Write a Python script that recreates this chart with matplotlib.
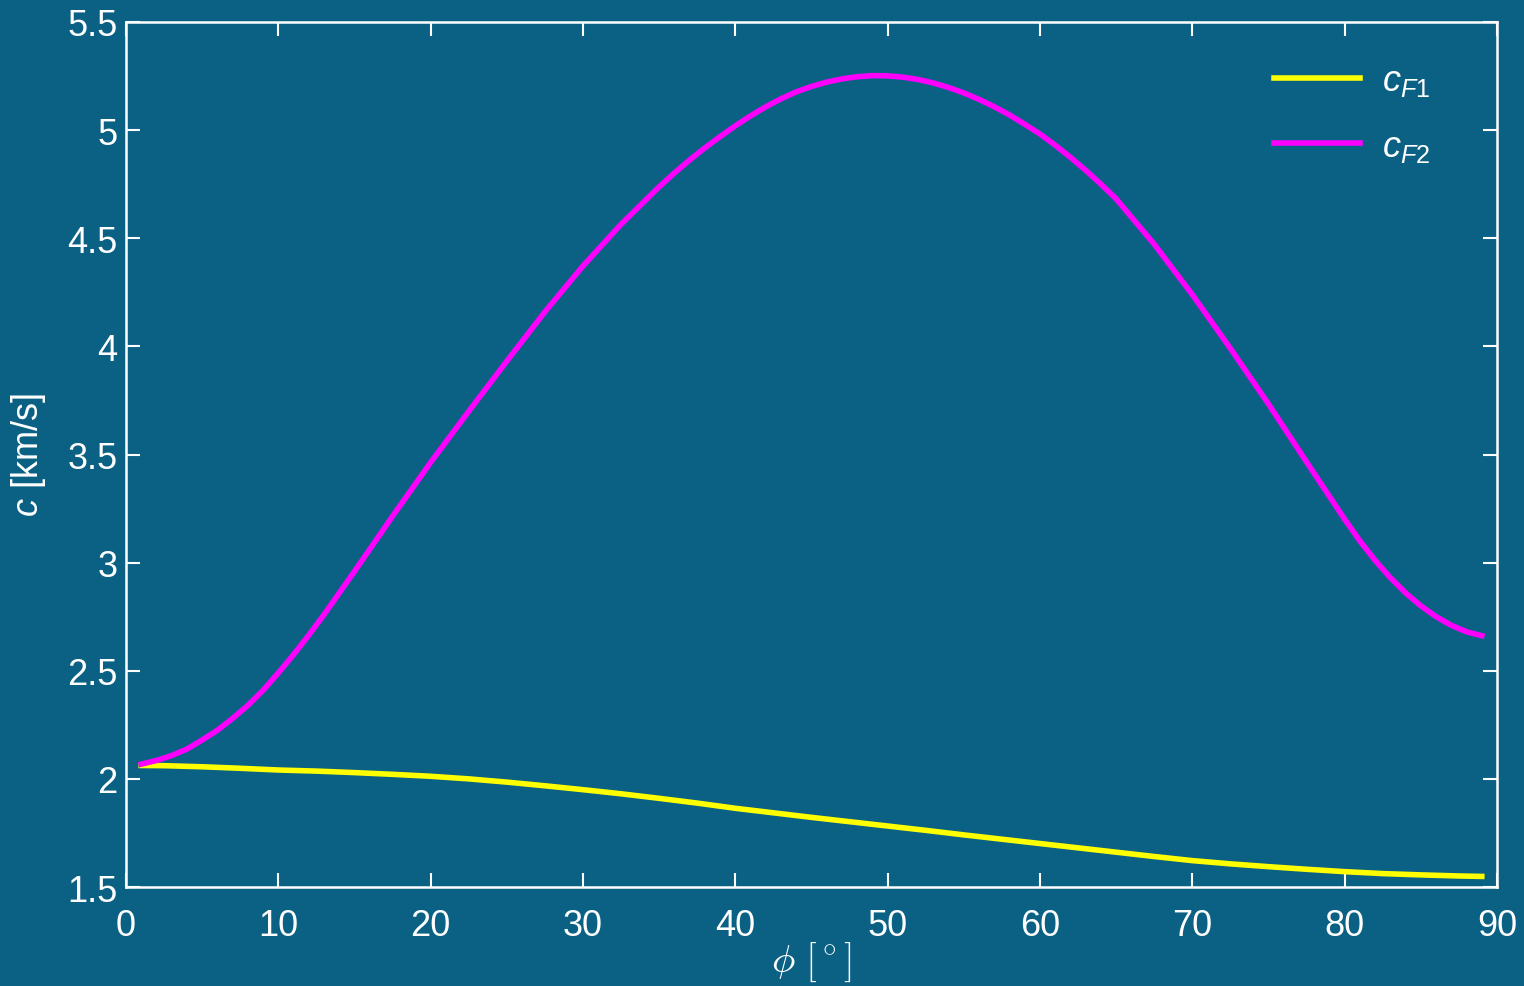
import matplotlib
matplotlib.use("Agg")
import matplotlib.pyplot as plt

# angle phi in degrees
phi_f1 = [1, 2.5, 5, 7.5, 10, 12.5, 15, 17.5, 20, 22.5, 25, 27.5, 30, 32.5, 35, 37.5,
          40, 42.5, 45, 47.5, 50, 52.5, 55, 57.5, 60, 62.5, 65, 67.5, 70, 72.5, 75,
          77.5, 80, 82.5, 85, 87.5, 89]
c_f1 = [2.062, 2.061, 2.056, 2.049, 2.041, 2.036, 2.029, 2.021, 2.012, 2.000, 1.985,
        1.968, 1.950, 1.931, 1.910, 1.888, 1.864, 1.843, 1.822, 1.802, 1.782, 1.762,
        1.741, 1.721, 1.701, 1.681, 1.661, 1.641, 1.622, 1.607, 1.594, 1.582, 1.571,
        1.562, 1.556, 1.551, 1.549]

phi_f2 = [1, 2, 3, 4, 5, 6, 7, 8, 9, 10, 11, 12, 13, 14, 15, 16, 17.5, 20, 22.5, 25,
          27.5, 30, 32.5, 35, 36, 37, 38, 39, 40, 41, 42, 43, 44, 45, 46, 47, 48, 49,
          50, 51, 52, 53, 54, 55, 56, 57, 58, 59, 60, 61, 62, 63, 64, 65, 67.5, 70,
          72.5, 75, 77.5, 80, 81, 82, 83, 84, 85, 86, 87, 88, 89]
c_f2 = [2.068, 2.085, 2.108, 2.138, 2.180, 2.225, 2.280, 2.340, 2.410, 2.490, 2.575,
        2.665, 2.760, 2.860, 2.960, 3.062, 3.215, 3.464, 3.700, 3.932, 4.160, 4.372,
        4.565, 4.738, 4.802, 4.862, 4.918, 4.970, 5.020, 5.066, 5.108, 5.145, 5.177,
        5.202, 5.222, 5.237, 5.247, 5.252, 5.251, 5.245, 5.234, 5.218, 5.197, 5.172,
        5.142, 5.108, 5.070, 5.027, 4.982, 4.930, 4.874, 4.814, 4.750, 4.682, 4.472,
        4.239, 3.990, 3.733, 3.465, 3.200, 3.100, 3.010, 2.930, 2.860, 2.800, 2.750,
        2.710, 2.680, 2.662]

bg = "#0b6184"
plt.rcParams["font.family"] = ["Liberation Sans", "DejaVu Sans"]
plt.rcParams["mathtext.fontset"] = "custom"
plt.rcParams["mathtext.it"] = "Liberation Sans:italic"
plt.rcParams["mathtext.rm"] = "Liberation Sans"

fig = plt.figure(figsize=(15.24, 9.87), dpi=100, facecolor=bg)
ax = fig.add_axes([0.0827, 0.1003, 0.8996, 0.8764], facecolor=bg)

ax.plot(phi_f1, c_f1, color="#ffff00", lw=4, label=r"$c_{F1}$")
ax.plot(phi_f2, c_f2, color="#ff00ff", lw=4, label=r"$c_{F2}$")

ax.set_xlim(0, 90)
ax.set_ylim(1.5, 5.5)
ax.set_xticks(range(0, 91, 10))
ax.set_yticks([1.5, 2, 2.5, 3, 3.5, 4, 4.5, 5, 5.5])
ax.set_yticklabels(["1.5", "2", "2.5", "3", "3.5", "4", "4.5", "5", "5.5"])

for s in ax.spines.values():
    s.set_color("white")
    s.set_linewidth(1.8)
ax.tick_params(direction="in", top=True, right=True, length=10, width=1.5,
               colors="white", labelsize=26)
ax.tick_params(axis="x", pad=15)
ax.tick_params(axis="y", pad=6)

ax.set_xlabel(r"$\phi\ [^\circ]$", color="white", fontsize=28,
              math_fontfamily="cm", labelpad=-2)
ax.set_ylabel(r"$c$ [km/s]", color="white", fontsize=26, labelpad=14)

leg = ax.legend(loc="upper right", bbox_to_anchor=(0.975, 0.99), frameon=False,
                fontsize=26, handlelength=2.4, labelspacing=0.85,
                handletextpad=0.6)
for t in leg.get_texts():
    t.set_color("white")

fig.savefig("out.png", dpi=100, facecolor=bg)
